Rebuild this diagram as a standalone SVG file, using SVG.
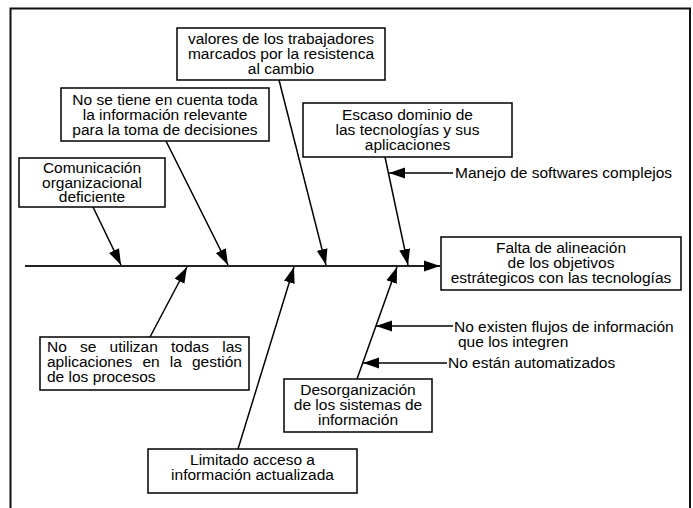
<svg xmlns="http://www.w3.org/2000/svg" width="693" height="508" viewBox="0 0 693 508">
<style>
text{font-family:"Liberation Sans",Arial,sans-serif;font-size:15.5px;fill:#000}
.c{text-anchor:middle}
.box{fill:#fff;stroke:#000;stroke-width:1.5}
.ln{stroke:#000;stroke-width:1.5;fill:none}
.sp{stroke:#222;stroke-width:2.2;fill:none}
</style>
<defs>
<marker id="ah" markerUnits="userSpaceOnUse" markerWidth="17" markerHeight="12" refX="16" refY="6" orient="auto">
<path d="M0,0.5 L16,6 L0,11.5 z" fill="#000"/>
</marker>
</defs>
<rect x="0" y="0" width="693" height="508" fill="#fff"/>
<path d="M10.5,512 V8.5 H690 V512" fill="none" stroke="#111" stroke-width="2"/>
<g id="connectors">
<line class="sp" x1="25" y1="266" x2="440" y2="266" marker-end="url(#ah)"/>
<line class="ln" x1="93" y1="207" x2="121" y2="265" marker-end="url(#ah)"/>
<line class="ln" x1="166" y1="141" x2="228" y2="265" marker-end="url(#ah)"/>
<line class="ln" x1="279" y1="80" x2="326" y2="265" marker-end="url(#ah)"/>
<line class="ln" x1="385" y1="157" x2="408" y2="265" marker-end="url(#ah)"/>
<line class="ln" x1="453" y1="173" x2="389" y2="173" marker-end="url(#ah)"/>
<line class="ln" x1="150" y1="337" x2="187" y2="267" marker-end="url(#ah)"/>
<line class="ln" x1="238" y1="449" x2="294" y2="267" marker-end="url(#ah)"/>
<line class="ln" x1="357" y1="379" x2="397" y2="267" marker-end="url(#ah)"/>
<line class="ln" x1="453" y1="326" x2="376" y2="326" marker-end="url(#ah)"/>
<line class="ln" x1="447" y1="363" x2="363" y2="363" marker-end="url(#ah)"/>
</g>
<g id="valores">
<rect class="box" x="177" y="28" width="208" height="52"/>
<text class="c"><tspan x="281" y="44">valores de los trabajadores</tspan><tspan x="281" y="59">marcados por la resistenca</tspan><tspan x="281" y="74">al cambio</tspan></text>
</g>
<g id="no-se-tiene">
<rect class="box" x="61" y="88" width="208" height="53"/>
<text class="c"><tspan x="165" y="105">No se tiene en cuenta toda</tspan><tspan x="165" y="120">la información relevante</tspan><tspan x="165" y="135">para la toma de decisiones</tspan></text>
</g>
<g id="comunicacion">
<rect class="box" x="19" y="158" width="146" height="49"/>
<text class="c"><tspan x="92" y="173">Comunicación</tspan><tspan x="92" y="188">organizacional</tspan><tspan x="92" y="202">deficiente</tspan></text>
</g>
<g id="escaso">
<rect class="box" x="303" y="103" width="209" height="54"/>
<text class="c"><tspan x="407.5" y="120">Escaso dominio de</tspan><tspan x="407.5" y="135">las tecnologías y sus</tspan><tspan x="407.5" y="150">aplicaciones</tspan></text>
</g>
<g id="manejo">
<text x="455" y="178">Manejo de softwares complejos</text>
</g>
<g id="falta">
<rect class="box" x="441" y="237" width="240" height="53"/>
<text class="c"><tspan x="561" y="253">Falta de alineación</tspan><tspan x="561" y="268">de los objetivos</tspan><tspan x="561" y="283">estrátegicos con las tecnologías</tspan></text>
</g>
<g id="no-se-utilizan">
<rect class="box" x="40" y="337" width="209" height="53"/>
<text><tspan x="47" y="352">No</tspan><tspan x="80" y="352">se</tspan><tspan x="109.6" y="352">utilizan</tspan><tspan x="171" y="352">todas</tspan><tspan x="222.2" y="352">las</tspan></text>
<text><tspan x="47" y="367">aplicaciones</tspan><tspan x="142.4" y="367">en</tspan><tspan x="169.7" y="367">la</tspan><tspan x="191.9" y="367">gestión</tspan></text>
<text x="47" y="382">de los procesos</text>
</g>
<g id="no-existen">
<text><tspan x="454" y="332">No existen flujos de información</tspan><tspan x="458" y="347">que los integren</tspan></text>
</g>
<g id="no-estan">
<text x="448" y="368">No están automatizados</text>
</g>
<g id="desorganizacion">
<rect class="box" x="284" y="379" width="148" height="53"/>
<text class="c"><tspan x="358" y="395">Desorganización</tspan><tspan x="358" y="410">de los sistemas de</tspan><tspan x="358" y="425">información</tspan></text>
</g>
<g id="limitado">
<rect class="box" x="148" y="449" width="209" height="44"/>
<text class="c"><tspan x="252.5" y="465">Limitado acceso a</tspan><tspan x="252.5" y="480">información actualizada</tspan></text>
</g>
</svg>
